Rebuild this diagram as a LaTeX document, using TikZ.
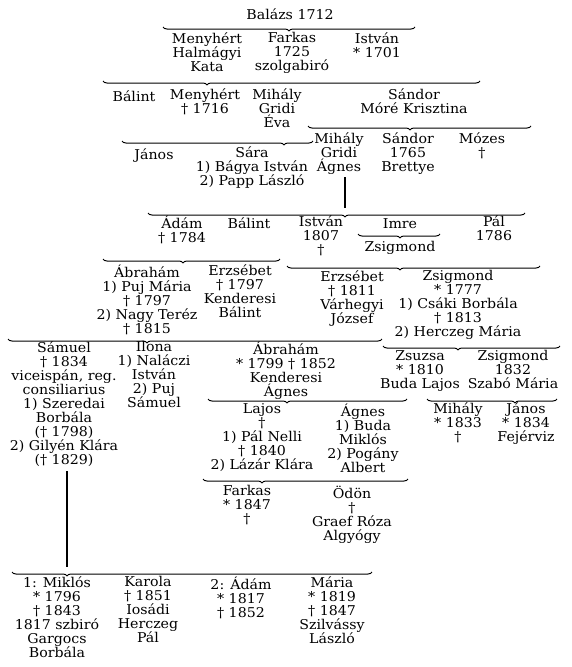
\documentclass[tikz,border=0pt]{standalone}
\usepackage{fontspec}
\setmainfont{DejaVu Serif}[FakeStretch=1.05]
\usepackage{tikz}
\usetikzlibrary{decorations.pathreplacing}
\lineskiplimit=-20pt
\newcommand\kinbrace[4]{%
  \pgfmathsetmacro\kinaspect{(#3-#1)/(#2-#1)}%
  \draw[kin,decoration={brace,mirror,amplitude=4pt,aspect=\kinaspect}] (#1,#4+1) -- (#2,#4+1);}

\begin{document}
\begin{tikzpicture}[x=1pt,y=-1pt,line join=round,
  kin/.style={decorate,line width=1pt},
  fam/.style={anchor=north,inner sep=0pt,align=center,yshift=-2pt,
    font=\fontsize{13.5}{14}\selectfont,execute at begin node=\rule{0pt}{13pt}}]
  \useasboundingbox[fill=white] (0,0) rectangle (571,667);
  \node[fam] (balazs) at (290,4.5) {Balázs 1712};
  \kinbrace{163}{415}{289}{26}
  \node[fam] (menyhert1) at (207,30.5) {Menyhért\\Halmágyi\\Kata};
  \node[fam] (farkas1) at (292,30.5) {Farkas\\1725\\szolgabiró};
  \node[fam] (istvan1) at (377,30.5) {István\\* 1701};
  \kinbrace{103}{480}{207}{80}
  \node[fam] (balint2) at (134,86.5) {Bálint};
  \node[fam] (menyhert2) at (205,86.5) {Menyhért\\† 1716};
  \node[fam] (mihaly2) at (277,86.5) {Mihály\\Gridi\\Éva};
  \node[fam] (sandor2) at (414,86.5) {Sándor\\Móré Krisztina};
  \kinbrace{122}{313}{284}{140}
  \kinbrace{308}{531}{410}{125}
  \node[fam] (janos3) at (154,144.5) {János};
  \node[fam] (sara3) at (252,144.5) {Sára\\1) Bágya István\\2) Papp László};
  \node[fam] (mihaly3) at (339,130.5) {Mihály\\Gridi\\Ágnes};
  \node[fam] (sandor3) at (408,130.5) {Sándor\\1765\\Brettye};
  \node[fam] (mozes3) at (482,130.5) {Mózes\\†};
  \coordinate (agnesA) at (345,177);
  \coordinate (agnesB) at (345,208);
  \draw[line width=1.2pt] (agnesA) -- (agnesB);
  \kinbrace{148}{525}{345}{212}
  \node[fam] (adam4) at (182,213.5) {Ádám\\† 1784};
  \node[fam] (balint4) at (249,213.5) {Bálint};
  \node[fam] (istvan4) at (321,213.5) {István\\1807\\†};
  \node[fam] (imre4) at (400,213.5) {Imre};
  \node[fam] (pal4) at (494,213.5) {Pál\\1786};
  \kinbrace{358}{440}{400}{233}
  \node[fam] (zsigmond4) at (400,236.5) {Zsigmond};
  \kinbrace{103}{280}{183}{258}
  \kinbrace{287}{540}{400}{265}
  \node[fam] (abraham5) at (147,262.5) {Ábrahám\\1) Puj Mária\\† 1797\\2) Nagy Teréz\\† 1815};
  \node[fam] (erzsebet5) at (240,262.5) {Erzsébet\\† 1797\\Kenderesi\\Bálint};
  \node[fam] (erzsebet5r) at (352,268.5) {Erzsébet\\† 1811\\Várhegyi\\József};
  \node[fam] (zsigmond5) at (458,268.5) {Zsigmond\\* 1777\\1) Csáki Borbála\\† 1813\\2) Herczeg Mária};
  \kinbrace{8}{382}{147}{338}
  \kinbrace{383}{560}{458}{345}
  \node[fam] (samuel6) at (64,339.5) {Sámuel\\† 1834\\viceispán, reg.\\consiliarius\\1) Szeredai\\Borbála\\(† 1798)\\2) Gilyén Klára\\(† 1829)};
  \node[fam] (ilona6) at (154,339.5) {Ilona\\1) Naláczi\\István\\2) Puj\\Sámuel};
  \node[fam] (abraham6) at (286,339.5) {Ábrahám\\* 1799 † 1852\\Kenderesi\\Ágnes};
  \node[fam] (zsuzsa6) at (420,348.5) {Zsuzsa\\* 1810\\Buda Lajos};
  \node[fam] (zsigmond6) at (513,348.5) {Zsigmond\\1832\\Szabó Mária};
  \kinbrace{208}{407}{287}{398}
  \kinbrace{427}{557}{515}{398}
  \node[fam] (lajos7) at (262,401.5) {Lajos\\†\\1) Pál Nelli\\† 1840\\2) Lázár Klára};
  \node[fam] (agnes7) at (363,401.5) {Ágnes\\1) Buda\\Miklós\\2) Pogány\\Albert};
  \node[fam] (mihaly7) at (458,400.5) {Mihály\\* 1833\\†};
  \node[fam] (janos7) at (526,400.5) {János\\* 1834\\Fejérviz};
  \kinbrace{203}{408}{262}{478}
  \node[fam] (farkas8) at (247,483.5) {Farkas\\* 1847\\†};
  \node[fam] (odon8) at (352,483.5) {Ödön\\†\\Graef Róza\\Algyógy};
  \coordinate (samuelA) at (67,471);
  \coordinate (samuelB) at (67,567);
  \draw[line width=1.2pt] (samuelA) -- (samuelB);
  \kinbrace{12}{372}{67}{571}
  \node[fam] (miklos9) at (57,574.5) {1: Miklós\\* 1796\\† 1843\\1817 szbiró\\Gargocs\\Borbála};
  \node[fam] (karola9) at (148,574.5) {Karola\\† 1851\\Iosádi\\Herczeg\\Pál};
  \node[fam] (adam9) at (241,574.5) {2: Ádám\\* 1817\\† 1852};
  \node[fam] (maria9) at (332,574.5) {Mária\\* 1819\\† 1847\\Szilvássy\\László};
\end{tikzpicture}
\end{document}
